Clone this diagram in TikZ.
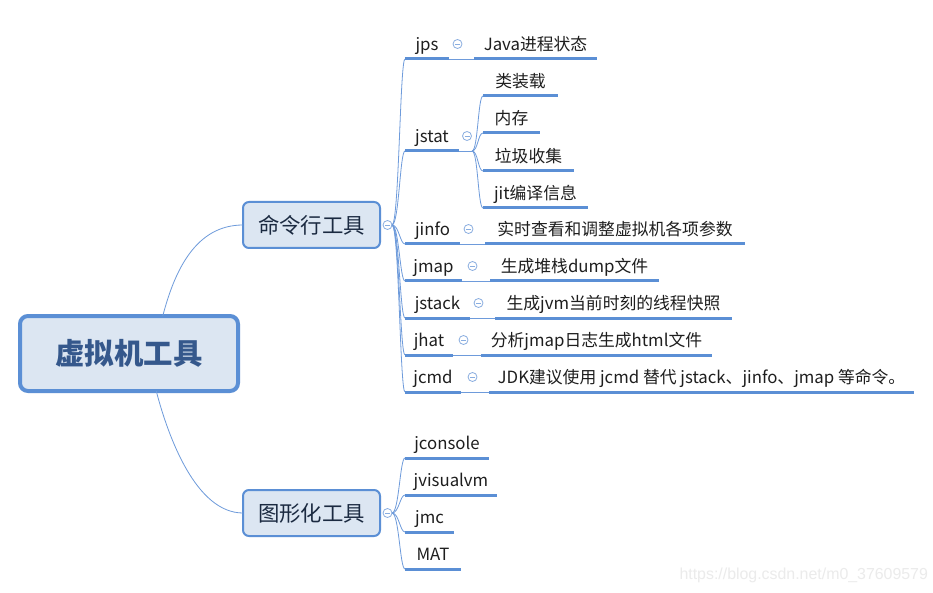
\documentclass[tikz,border=0pt]{standalone}
\usepackage{fontspec}
\setmainfont{Noto Sans CJK SC}
\newfontfamily\urlfont{Liberation Sans}
\usetikzlibrary{positioning}
\definecolor{boxfill}{HTML}{DCE6F2}
\definecolor{boxline}{HTML}{5B8FD5}
\definecolor{branchcol}{HTML}{6E9BDB}
\definecolor{foldcol}{HTML}{8AAEE0}
\definecolor{roottext}{HTML}{35588C}
\definecolor{maintext}{HTML}{1B2A41}
\definecolor{leaftext}{HTML}{1E1E1E}
\definecolor{wmark}{HTML}{EBEBEB}
\tikzset{
  base/.style={inner ysep=0pt, outer sep=0pt},
  rootbox/.style={base, draw=boxline, fill=boxfill, rounded corners=8pt, line width=4pt,
    minimum width=218pt, minimum height=75pt, text=roottext,
    text height=25.9pt, text depth=3.5pt,
    font=\fontsize{29.4}{32}\selectfont\bfseries},
  mainbox/.style={base, draw=boxline, fill=boxfill, rounded corners=6pt, line width=2pt,
    minimum width=137pt, minimum height=46pt, text=maintext,
    text height=18.8pt, text depth=2.6pt,
    font=\fontsize{21.4}{24}\selectfont},
  topic/.style={base, anchor=south west, inner xsep=0pt, minimum height=30pt,
    minimum width=#1, text=leaftext, text height=14.8pt, text depth=2pt,
    font=\fontsize{16.8}{18}\selectfont},
  fold/.style={circle, draw=foldcol, line width=0.8pt, fill=white, minimum size=9pt,
    inner sep=0pt, outer sep=0pt,
    path picture={\draw[foldcol, line width=0.8pt]
      ([xshift=-2.5pt]path picture bounding box.center) --
      ([xshift=2.5pt]path picture bounding box.center);}},
  branch/.style={draw=branchcol, line width=0.8pt},
  uline/.style={draw=boxline, line width=3pt},
}
\begin{document}
\begin{tikzpicture}[x=1pt,y=-1pt]
  \fill[white] (0,0) rectangle (933,593);
  \useasboundingbox (0,0) rectangle (933,593);

  % main topics
  \node[rootbox] (root) at (129,353.5) {虚拟机工具};
  \node[mainbox] (cmd) at (311.5,225) {命令行工具};
  \node[mainbox] (gfx) at (311.5,513) {图形化工具};
  \node[fold, right=3pt of cmd] (fcmd) {};
  \node[fold, right=3pt of gfx] (fgfx) {};

  % command line tools
  \node[topic=44] (jps) at (405,59) {jps};
  \node[topic=54] (jstat) at (405,151) {jstat};
  \node[topic=55] (jinfo) at (405,244) {jinfo};
  \node[topic=57] (jmap) at (405,281) {jmap};
  \node[topic=65] (jstack) at (405,318) {jstack};
  \node[topic=48] (jhat) at (405,355) {jhat};
  \node[topic=56] (jcmd) at (405,392) {jcmd};

  \node[topic=123] (jpsdesc) at (474,59) {Java进程状态};
  \node[topic=260] (jinfodesc) at (485,244) {实时查看和调整虚拟机各项参数};
  \node[topic=169] (jmapdesc) at (490,281) {生成堆栈dump文件};
  \node[topic=237] (jstackdesc) at (495,318) {生成jvm当前时刻的线程快照};
  \node[topic=231] (jhatdesc) at (481,355) {分析jmap日志生成html文件};
  \node[topic=425] (jcmddesc) at (489,392) {JDK建议使用 jcmd 替代 jstack、jinfo、jmap 等命令。};

  % jstat options
  \node[topic=75] (clsload) at (483,96) {类装载};
  \node[topic=57] (memory) at (483,133) {内存};
  \node[topic=91] (gc) at (483,171) {垃圾收集};
  \node[topic=105] (jit) at (483,208) {jit编译信息};

  % graphical tools
  \node[topic=84] (jconsole) at (405,458) {jconsole};
  \node[topic=92] (jvisualvm) at (405,495) {jvisualvm};
  \node[topic=49] (jmc) at (405,532) {jmc};
  \node[topic=56] (mat) at (405,569) {MAT};

  % fold buttons
  \node[fold, right=4pt of jps] (fjps) {};
  \node[fold, right=3.5pt of jstat] (fjstat) {};
  \node[fold, right=4pt of jinfo] (fjinfo) {};
  \node[fold, right=6pt of jmap] (fjmap) {};
  \node[fold, right=4pt of jstack] (fjstack) {};
  \node[fold, right=6pt of jhat] (fjhat) {};
  \node[fold, right=7pt of jcmd] (fjcmd) {};

  % connectors
  \draw[branch] (root.48) .. controls +(12,-46) and +(-47,0) .. (cmd.west);
  \draw[branch] (root.-54) .. controls +(12,46) and +(-47,0) .. (gfx.west);
  \foreach \c in {jps,jstat,jinfo,jmap,jstack,jhat,jcmd}
    \draw[branch] (fcmd.east) .. controls +(7,0) and +(-5,0) .. (\c.south west);
  \foreach \c in {jconsole,jvisualvm,jmc,mat}
    \draw[branch] (fgfx.east) .. controls +(7,0) and +(-5,0) .. (\c.south west);
  \coordinate (jstatfork) at ([xshift=13pt]jstat.south east);
  \draw[branch] (jstat.south east) -- (jstatfork);
  \foreach \c in {clsload,memory,gc,jit}
    \draw[branch] (jstatfork) .. controls +(6,0) and +(-5,0) .. (\c.south west);
  \foreach \a/\b in {jps/jpsdesc,jinfo/jinfodesc,jmap/jmapdesc,jstack/jstackdesc,jhat/jhatdesc,jcmd/jcmddesc}
    \draw[branch] (\a.south east) -- (\b.south west);

  % underlines
  \foreach \n in {jps,jstat,jinfo,jmap,jstack,jhat,jcmd,jpsdesc,jinfodesc,jmapdesc,jstackdesc,jhatdesc,jcmddesc,clsload,memory,gc,jit,jconsole,jvisualvm,jmc,mat}
    \draw[uline] (\n.south west) -- (\n.south east);

  \node[anchor=west, text=wmark, font=\urlfont\fontsize{15.9}{18}\selectfont] (wm) at (676,575) {https://blog.csdn.net/m0\_37609579};
\end{tikzpicture}
\end{document}
